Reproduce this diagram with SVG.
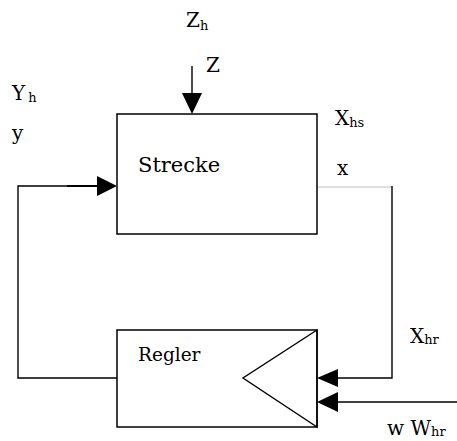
<svg xmlns="http://www.w3.org/2000/svg" width="457" height="441" viewBox="0 0 457 441">
<style>
.bx{fill:#fff;stroke:#000;stroke-width:1.5}
.ln{fill:none;stroke:#000;stroke-width:1.4}
.hd{fill:#000;stroke:none}
text{font-family:'DejaVu Serif','Liberation Serif',serif;font-size:20px;fill:#000}
.s{font-size:13px}
</style>
<rect width="457" height="441" fill="#fff"/>
<g id="connectors">
<line class="ln" x1="192" y1="66" x2="192" y2="96"/>
<polygon class="hd" points="182,93 202,93 192,114"/>
<polyline class="ln" points="117,378 18,378 18,186 98,186"/>
<line x1="67" y1="186" x2="98" y2="186" stroke="#000" stroke-width="2"/>
<polygon class="hd" points="97,176 97,196 117,186"/>
<line x1="317" y1="187" x2="392" y2="187" stroke="#bdbdbd" stroke-width="1"/>
<polyline class="ln" points="392,186 392,378 336,378"/>
<polygon class="hd" points="338,369 338,387 317,378"/>
<line class="ln" x1="457" y1="402" x2="336" y2="402"/>
<polygon class="hd" points="338,392 338,412 317,402"/>
</g>
<g id="strecke">
<rect class="bx" x="117" y="114" width="200" height="120"/>
<text x="138" y="172" style="font-size:21px">Strecke</text>
</g>
<g id="regler">
<rect class="bx" x="117" y="330" width="200" height="97"/>
<polygon points="317,330 243,378 317,427" fill="none" stroke="#000" stroke-width="1.4"/>
<text x="138" y="361" style="font-size:18.5px">Regler</text>
</g>
<g id="labels">
<text x="186" y="27">Z<tspan class="s" dy="3">h</tspan></text>
<text x="206" y="72">Z</text>
<text x="12" y="100">Y<tspan class="s" dy="2" dx="3">h</tspan></text>
<text x="12" y="140">y</text>
<text x="335" y="125">X<tspan class="s" dy="2">hs</tspan></text>
<text x="337" y="175">x</text>
<text x="410" y="343">X<tspan class="s" dy="1">hr</tspan></text>
<text x="387" y="435">w W<tspan class="s" dy="1">hr</tspan></text>
</g>
</svg>
